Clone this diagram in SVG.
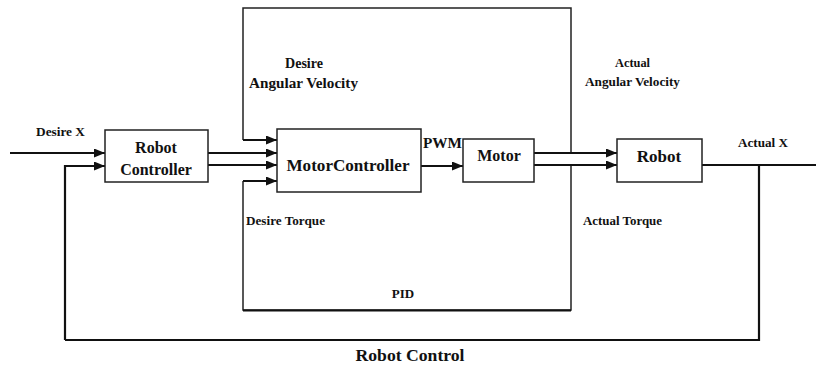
<svg xmlns="http://www.w3.org/2000/svg" width="816" height="365" viewBox="0 0 816 365">
<defs>
<marker id="ah" markerUnits="userSpaceOnUse" markerWidth="12" markerHeight="10" refX="11" refY="4.5" orient="auto"><path d="M0,0 L11,4.5 L0,9 z" fill="#111"/></marker>
<style>
.box{fill:#fff;stroke:#222;stroke-width:1.5}
.ln{fill:none;stroke:#111;stroke-width:2.2}
.fr{fill:none;stroke:#222;stroke-width:1.5}
text{font-family:'Liberation Serif','DejaVu Serif','Times New Roman',serif;font-weight:bold;fill:#111}
.lbl{font-size:13px}
.big{font-size:16px;text-anchor:middle}
</style>
</defs>
<rect width="816" height="365" fill="#fff"/>
<g id="pid">
<path class="fr" d="M243,140 V8 H571 V153 M571,165 V310 H243 V181"/>
<path d="M243,310.5 H571" stroke="#111" stroke-width="2.2"/>
<text class="lbl" x="403" y="298" text-anchor="middle">PID</text>
</g>
<g id="connectors">
<path class="ln" d="M10,153 H105" marker-end="url(#ah)"/>
<path class="ln" d="M65,340 V166 H105" marker-end="url(#ah)"/>
<path class="ln" d="M208,153 H277" marker-end="url(#ah)"/>
<path class="ln" d="M208,165 H277" marker-end="url(#ah)"/>
<path class="ln" d="M243,140 H277" marker-end="url(#ah)"/>
<path class="ln" d="M243,181 H277" marker-end="url(#ah)"/>
<path class="ln" d="M421,166 H463" marker-end="url(#ah)"/>
<path class="ln" d="M534,153 H617" marker-end="url(#ah)"/>
<path class="ln" d="M534,165 H617" marker-end="url(#ah)"/>
<path class="ln" d="M702,165 H816"/>
<path class="ln" d="M759,165 V340 H65" stroke-width="2.6"/>
</g>
<g id="robot-controller">
<rect class="box" x="105" y="130" width="103" height="52"/>
<text class="big" x="156" y="153">Robot</text>
<text class="big" x="156" y="175">Controller</text>
</g>
<g id="motor-controller">
<rect class="box" x="277" y="129" width="144" height="63"/>
<text class="big" x="348" y="171" style="font-size:17px" textLength="123" lengthAdjust="spacingAndGlyphs">MotorController</text>
</g>
<g id="motor">
<rect class="box" x="463" y="139" width="71" height="43"/>
<text class="big" x="499" y="161">Motor</text>
</g>
<g id="robot">
<rect class="box" x="617" y="139" width="85" height="43"/>
<text class="big" x="659" y="162" style="font-size:17px">Robot</text>
</g>
<g id="labels">
<text class="lbl" x="36" y="136" textLength="49" lengthAdjust="spacingAndGlyphs">Desire X</text>
<text class="lbl" x="285" y="68" style="font-size:14px" textLength="38" lengthAdjust="spacingAndGlyphs">Desire</text>
<text class="lbl" x="249" y="88" style="font-size:14.5px" textLength="109" lengthAdjust="spacingAndGlyphs">Angular Velocity</text>
<text class="lbl" x="246" y="225" textLength="79" lengthAdjust="spacingAndGlyphs">Desire Torque</text>
<text class="lbl" x="615" y="67" textLength="35" lengthAdjust="spacingAndGlyphs">Actual</text>
<text class="lbl" x="585" y="86" textLength="95" lengthAdjust="spacingAndGlyphs">Angular Velocity</text>
<text class="lbl" x="583" y="225" textLength="79" lengthAdjust="spacingAndGlyphs">Actual Torque</text>
<text class="lbl" x="738" y="147" textLength="50" lengthAdjust="spacingAndGlyphs">Actual X</text>
<text class="lbl" x="423" y="148" style="font-size:15px" textLength="39" lengthAdjust="spacingAndGlyphs">PWM</text>
<text class="big" x="410" y="361" style="font-size:17px" textLength="109" lengthAdjust="spacingAndGlyphs">Robot Control</text>
</g>
</svg>
